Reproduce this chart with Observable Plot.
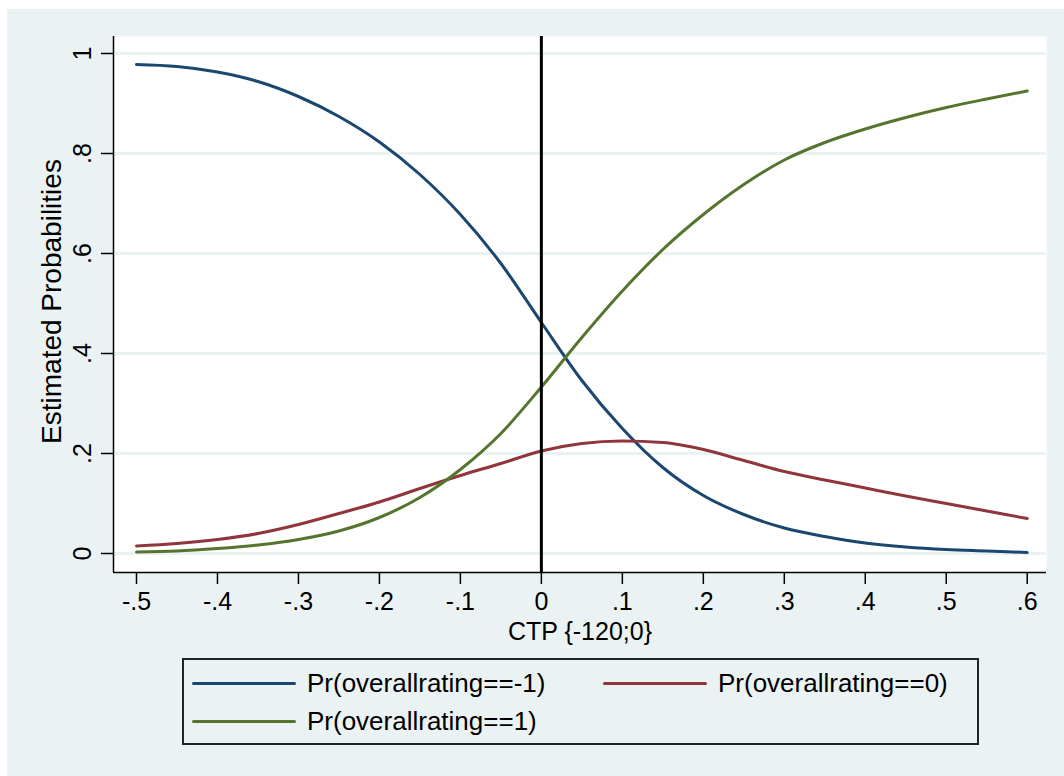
<!DOCTYPE html>
<html>
<head>
<meta charset="utf-8">
<script src="https://cdn.jsdelivr.net/npm/d3@7"></script>
<script src="https://cdn.jsdelivr.net/npm/@observablehq/plot@0.6"></script>
<style>
  html, body { margin: 0; padding: 0; background: #ffffff; }
  #page { position: relative; width: 1064px; height: 776px; overflow: hidden; font-family: "Liberation Sans", Arial, sans-serif; }
  #bg { position: absolute; left: 7px; top: 9px; right: 0; bottom: 0; background: #EAF2F3; }
  #chart { position: absolute; left: 0; top: 0; }
  #legend { position: absolute; left: 182px; top: 658px; width: 793px; height: 83px; border: 2px solid #222; background: #EAF2F3; }
  .item { position: absolute; display: flex; align-items: center; font-size: 26px; line-height: 30px; color: #000; white-space: nowrap; }
  .swatch { width: 104px; height: 3px; margin-right: 11px; border-radius: 1.5px; }
</style>
</head>
<body>
<div id="page">
  <div id="bg"></div>
  <div id="chart"></div>
  <div id="legend"></div>
</div>
<script>
const xValues = [-0.5, -0.45, -0.4, -0.35, -0.3, -0.25, -0.2, -0.15, -0.1, -0.05, 0, 0.05, 0.1, 0.15, 0.2, 0.25, 0.3, 0.35, 0.4, 0.45, 0.5, 0.55, 0.6];
const prNeg = [0.978, 0.974, 0.963, 0.944, 0.914, 0.874, 0.823, 0.758, 0.678, 0.580, 0.462, 0.346, 0.250, 0.172, 0.116, 0.078, 0.051, 0.034, 0.021, 0.013, 0.008, 0.005, 0.002];
const prZero = [0.015, 0.020, 0.028, 0.040, 0.058, 0.080, 0.103, 0.130, 0.156, 0.180, 0.205, 0.220, 0.225, 0.222, 0.208, 0.186, 0.164, 0.147, 0.131, 0.115, 0.100, 0.085, 0.070];
const prPos = [0.003, 0.005, 0.010, 0.017, 0.028, 0.045, 0.072, 0.112, 0.168, 0.240, 0.333, 0.432, 0.525, 0.608, 0.678, 0.738, 0.787, 0.822, 0.849, 0.872, 0.892, 0.909, 0.925];
const seriesNames = ["Pr(overallrating==-1)", "Pr(overallrating==0)", "Pr(overallrating==1)"];
const seriesColors = ["#1a476f", "#90353b", "#55752f"];
const xTicks = [-0.5, -0.4, -0.3, -0.2, -0.1, 0, 0.1, 0.2, 0.3, 0.4, 0.5, 0.6];
const yTicks = [0, 0.2, 0.4, 0.6, 0.8, 1];
const xTitle = "CTP {-120;0}";
const yTitle = "Estimated Probabilities";

const fmt = d => {
  if (d === 0) return "0";
  const s = String(Math.round(d * 10) / 10);
  return s.replace(/^(-?)0\./, "$1.");
};

const allSeries = [prNeg, prZero, prPos];
const rows = [];
allSeries.forEach((vals, s) => vals.forEach((v, i) => rows.push({x: xValues[i], y: v, series: seriesNames[s]})));

const xDomain = [-0.5284, 0.6238];
const yDomain = [-0.038, 1.034];

const chart = Plot.plot({
  width: 1064,
  height: 660,
  marginLeft: 113,
  marginRight: 18,
  marginTop: 36,
  marginBottom: 88,
  style: { background: "transparent", fontFamily: "'Liberation Sans', Arial, sans-serif", color: "#000" },
  x: { domain: xDomain, ticks: xTicks },
  y: { domain: yDomain, ticks: yTicks },
  color: { domain: seriesNames, range: seriesColors },
  marks: [
    Plot.frame({ fill: "white", stroke: null }),
    Plot.gridY(yTicks, { stroke: "#EAF2F3", strokeOpacity: 1, strokeWidth: 3 }),
    Plot.line(rows, { x: "x", y: "y", z: "series", stroke: "series", strokeWidth: 3, curve: "monotone-x" }),
    Plot.ruleX([0], { stroke: "#000", strokeWidth: 3 }),
    Plot.ruleX([xDomain[0]], { stroke: "#000", strokeWidth: 1.5 }),
    Plot.ruleY([yDomain[0]], { stroke: "#000", strokeWidth: 1.5 }),
    Plot.axisX(xTicks, { tickSize: 12, tickPadding: 8, fontSize: 25, tickFormat: fmt, label: null, stroke: "#000", strokeWidth: 1.5 }),
    Plot.axisY(yTicks, { tickSize: 12, tickFormat: () => "", label: null, stroke: "#000", strokeWidth: 1.5 }),
    Plot.text(yTicks, { x: xDomain[0], y: d => d, text: fmt, rotate: -90, dx: -31, fontSize: 25, textAnchor: "middle", lineAnchor: "middle", fill: "#000" }),
    Plot.text([xTitle], { frameAnchor: "bottom", dy: 59, fontSize: 25, textAnchor: "middle", lineAnchor: "middle", fill: "#000" }),
    Plot.text([yTitle], { frameAnchor: "left", dx: -61, dy: -3, rotate: -90, fontSize: 28, textAnchor: "middle", lineAnchor: "middle", fill: "#000" })
  ]
});
document.getElementById("chart").appendChild(chart);

const legend = document.getElementById("legend");
const positions = [
  { left: 8, top: 8 },
  { left: 419, top: 8 },
  { left: 8, top: 46 }
];
seriesNames.forEach((name, i) => {
  const item = document.createElement("div");
  item.className = "item";
  item.style.left = positions[i].left + "px";
  item.style.top = positions[i].top + "px";
  const sw = document.createElement("div");
  sw.className = "swatch";
  sw.style.background = seriesColors[i];
  const label = document.createElement("span");
  label.textContent = name;
  item.appendChild(sw);
  item.appendChild(label);
  legend.appendChild(item);
});
</script>
</body>
</html>
